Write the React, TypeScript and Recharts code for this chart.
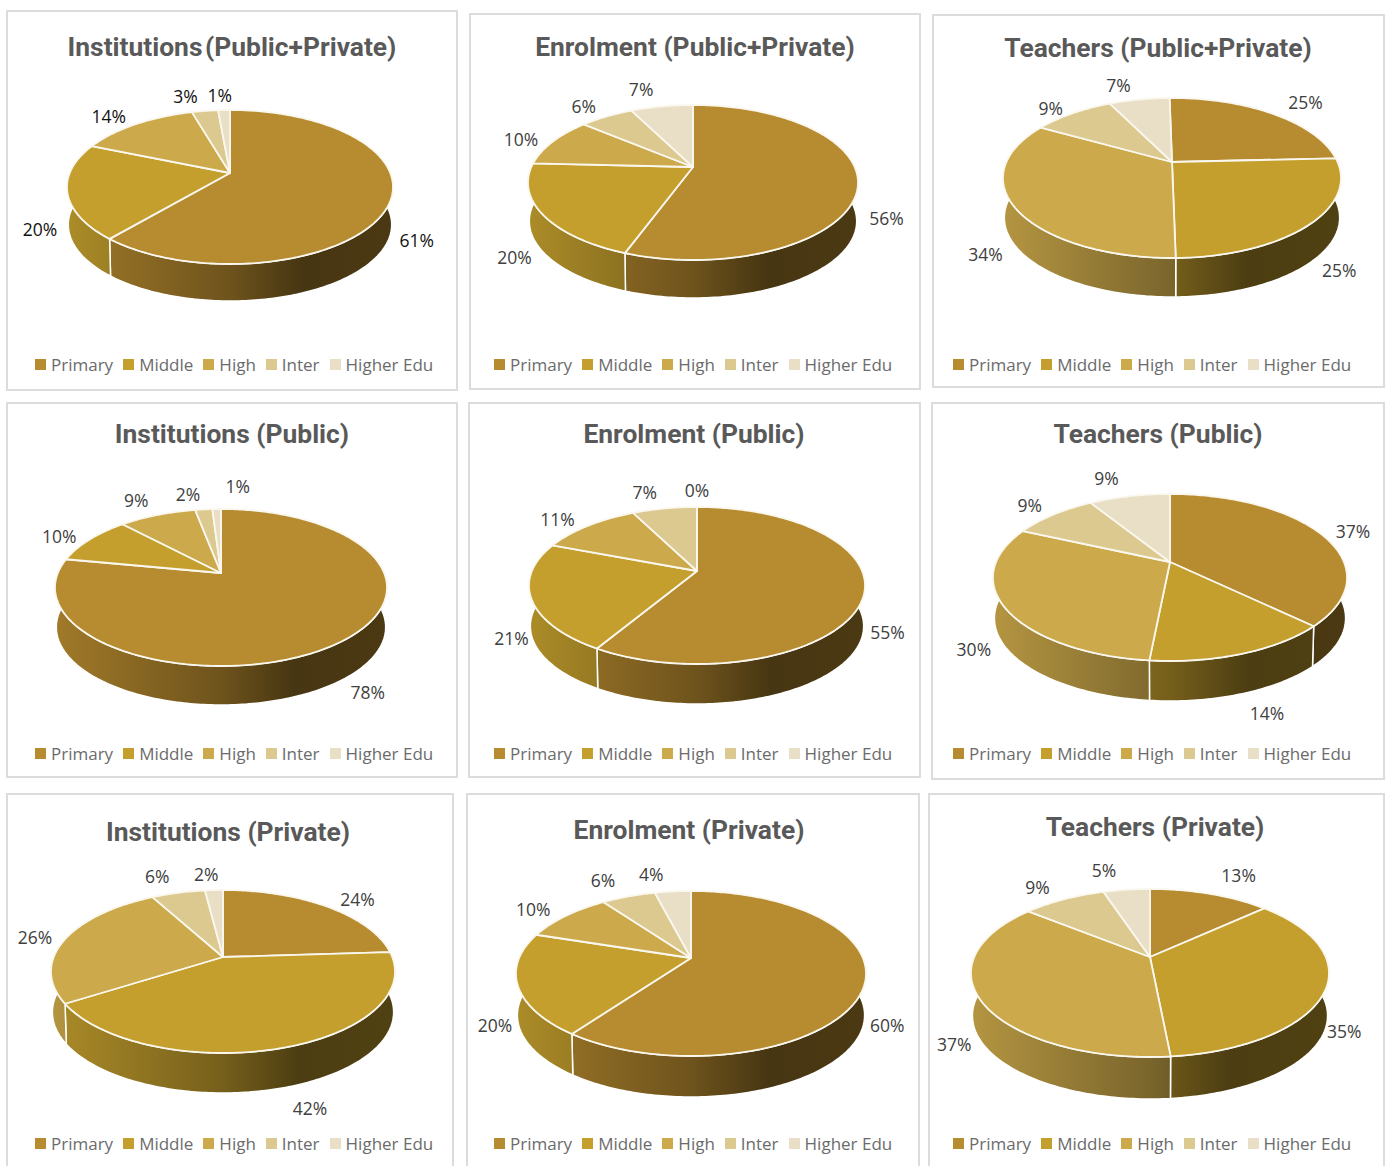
import { PieChart, Pie, Legend } from 'recharts';

const categories = ['Primary', 'Middle', 'High', 'Inter', 'Higher Edu'];
const palette = ['#b78b2f', '#c49f2d', '#cca94a', '#dcc98f', '#e9dfc6'];

// shares, the labels on the chart are these rounded
const institutionsAll = [61.2, 20.1, 14.2, 3.1, 1.4];
const enrolmentAll = [55.5, 20.2, 10.4, 6.4, 7.4];
const teachersAll = [24.5, 25.49, 33.5, 9.49, 7.02];
const institutionsPublic = [78, 10, 9, 2, 1];
const enrolmentPublic = [55, 21, 11, 7, 0];
const teachersPublic = [37.4, 14.4, 30.4, 9.4, 8.9];
const institutionsPrivate = [24, 42, 26, 6, 2];
const enrolmentPrivate = [60, 20, 10, 6, 4];
const teachersPrivate = [13, 35, 37, 9, 5];

interface Panel {
  title: string;
  values: number[];
  box: [number, number, number, number];
  titleX: number;
  titleY: number;
  titleSpacing?: number;
  legendX: number;
  legendY: number;
  centerX: number;
  centerY: number;
  radius: number;
  top: number;
  bottom: number;
  wallBottom: number;
  rotate?: number;
  labelColor?: string;
  nudges: [number, number][];
}

const panels: Panel[] = [
  { title: 'Institutions (Public+Private)', values: institutionsAll, box: [6, 10, 452, 381], titleX: 232, titleY: 47, titleSpacing: -4, legendX: 35, legendY: 367, centerX: 230, centerY: 173, radius: 163, top: 110, bottom: 264, wallBottom: 301, labelColor: '#111111',
    nudges: [[-1, -4], [1, -4], [-8, 4], [-14, 1], [-3, 1]] },
  { title: 'Enrolment (Public+Private)', values: enrolmentAll, box: [469, 13, 452, 377], titleX: 695, titleY: 47, legendX: 494, legendY: 367, centerX: 693, centerY: 167, radius: 165, top: 105, bottom: 260, wallBottom: 298,
    nudges: [[0, -4], [-3, -4], [-5, 3], [-5, 2], [-14, -2]] },
  { title: 'Teachers (Public+Private)', values: teachersAll, box: [932, 14, 453, 374], titleX: 1158, titleY: 48, legendX: 953, legendY: 367, centerX: 1172, centerY: 162, radius: 169, top: 98, bottom: 258, wallBottom: 297, rotate: 1,
    nudges: [[15, 1], [6, -3], [-3, 0], [-2, 6], [-14, 1]] },
  { title: 'Institutions (Public)', values: institutionsPublic, box: [6, 402, 452, 376], titleX: 232, titleY: 434, legendX: 35, legendY: 756, centerX: 221, centerY: 573, radius: 166, top: 509, bottom: 666, wallBottom: 705,
    nudges: [[7, -1], [-5, 4], [-8, -1], [-12, 0], [22, -7]] },
  { title: 'Enrolment (Public)', values: enrolmentPublic, box: [468, 402, 453, 376], titleX: 694, titleY: 434, legendX: 494, legendY: 756, centerX: 697, centerY: 571, radius: 168, top: 507, bottom: 664, wallBottom: 704,
    nudges: [[-5, -5], [8, -5], [-9, 4], [-13, -1], [0, -1]] },
  { title: 'Teachers (Public)', values: teachersPublic, box: [931, 402, 454, 378], titleX: 1158, titleY: 434, legendX: 953, legendY: 756, centerX: 1170, centerY: 562, radius: 177, top: 494, bottom: 661, wallBottom: 701,
    nudges: [[7, 5], [14, 4], [-5, -6], [-2, 1], [-15, -3]] },
  { title: 'Institutions (Private)', values: institutionsPrivate, box: [6, 793, 448, 400], titleX: 228, titleY: 832, legendX: 35, legendY: 1146, centerX: 223, centerY: 957, radius: 172, top: 890, bottom: 1053, wallBottom: 1093,
    nudges: [[12, 5], [15, 5], [-3, 3], [-12, -2], [-6, 0]] },
  { title: 'Enrolment (Private)', values: enrolmentPrivate, box: [466, 793, 454, 400], titleX: 689, titleY: 830, legendX: 494, legendY: 1146, centerX: 691, centerY: 958, radius: 175, top: 891, bottom: 1056, wallBottom: 1097,
    nudges: [[-5, -6], [5, -6], [-9, 3], [-13, -2], [-18, -2]] },
  { title: 'Teachers (Private)', values: teachersPrivate, box: [928, 793, 457, 400], titleX: 1155, titleY: 827, legendX: 953, legendY: 1146, centerX: 1150, centerY: 957, radius: 179, top: 889, bottom: 1057, wallBottom: 1099,
    nudges: [[17, -4], [-9, -6], [0, -5], [-10, 1], [-18, -4]] },
];

const WALL_SHRINK = 0.992;

const shadeColor = (hex: string, f: number) => {
  const n = parseInt(hex.slice(1), 16);
  const c = (s: number) => Math.round(((n >> s) & 255) * f);
  return `rgb(${c(16)},${c(8)},${c(0)})`;
};

// the charts are tilted with some perspective, so a slice angle goes through this before drawing
const makeProjection = (p: Panel) => {
  const up = p.centerY - p.top;
  const down = p.bottom - p.centerY;
  const k = (down - up) / (down + up);
  const b = up * (1 + k);
  const a = p.radius * Math.sqrt(1 - k * k);
  return (angle: number) => {
    const rad = (angle * Math.PI) / 180;
    const u = Math.sin(rad);
    const v = -Math.cos(rad);
    const d = 1 - k * v;
    return { x: (a * u) / d, y: (b * v) / d, u, v };
  };
};

const arcPoints = (startAngle: number, endAngle: number) => {
  const from = 90 - startAngle;
  const to = 90 - endAngle;
  const steps = Math.max(1, Math.ceil(to - from));
  const out: number[] = [];
  for (let i = 0; i <= steps; i++) out.push(from + ((to - from) * i) / steps);
  return out;
};

function PieCard({ panel, index }: { panel: Panel; index: number }) {
  const [bx, by, bw, bh] = panel.box;
  const project = makeProjection(panel);
  const cx = panel.centerX - bx;
  const cy = panel.centerY - by;
  const depth = panel.wallBottom - panel.centerY - WALL_SHRINK * (panel.bottom - panel.centerY);
  const startAngle = 90 + (panel.rotate ?? 0);
  const endAngle = startAngle - 360;
  const rows = categories.map((name, i) => ({ name, value: panel.values[i], fill: palette[i] }));

  const wallShape = (props: any) => {
    const angles = arcPoints(props.startAngle, props.endAngle);
    const upper = angles.map((t) => {
      const q = project(t);
      return `${cx + q.x},${cy + q.y}`;
    });
    const lower = angles
      .slice()
      .reverse()
      .map((t) => {
        const q = project(t);
        return `${cx + q.x * WALL_SHRINK},${cy + q.y * WALL_SHRINK + depth}`;
      });
    const id = `wall-${index}-${props.name.replace(' ', '')}`;
    return (
      <g>
        <defs>
          <linearGradient id={id} gradientUnits="userSpaceOnUse" x1={cx - panel.radius} x2={cx + panel.radius} y1={0} y2={0}>
            <stop offset="0%" stopColor={shadeColor(props.fill, 0.88)} />
            <stop offset="50%" stopColor={shadeColor(props.fill, 0.6)} />
            <stop offset="72%" stopColor={shadeColor(props.fill, 0.39)} />
            <stop offset="100%" stopColor={shadeColor(props.fill, 0.41)} />
          </linearGradient>
        </defs>
        <path d={`M${upper.join('L')}L${lower.join('L')}Z`} fill={`url(#${id})`} stroke="#fff" strokeWidth={1.5} />
      </g>
    );
  };

  const topShape = (props: any) => {
    const pts = arcPoints(props.startAngle, props.endAngle).map((t) => {
      const q = project(t);
      return `${cx + q.x},${cy + q.y}`;
    });
    return <path d={`M${cx},${cy}L${pts.join('L')}Z`} fill={props.fill} stroke="#faf7ee" strokeWidth={1.8} strokeLinejoin="round" />;
  };

  const renderLabel = (props: any) => {
    const q = project(90 - props.midAngle);
    const dx = 29 * q.u;
    const dy = q.v < 0 ? 16 * q.v : depth * Math.min(1, q.v / 0.15) + 16 * q.v;
    const [nx, ny] = panel.nudges[props.index];
    return (
      <text
        x={cx + q.x + dx + nx}
        y={cy + q.y + dy + ny}
        textAnchor="middle"
        dominantBaseline="central"
        fontFamily="'Open Sans', sans-serif"
        fontSize={17.5}
        fill={panel.labelColor ?? '#404040'}
      >
        {Math.round(props.value)}%
      </text>
    );
  };

  const renderLegend = (props: any) => (
    <div style={{ display: 'flex', gap: 10, alignItems: 'center', whiteSpace: 'nowrap' }}>
      {(props.payload ?? [])
        .filter((e: any) => e.type !== 'none')
        .map((e: any) => (
          <div key={e.value} style={{ display: 'flex', alignItems: 'center', gap: 5 }}>
            <span style={{ width: 11, height: 11, background: e.color, display: 'inline-block' }} />
            <span style={{ fontFamily: "'Open Sans', sans-serif", fontSize: 17, color: '#6b6b6b' }}>{e.value}</span>
          </div>
        ))}
    </div>
  );

  return (
    <div
      style={{
        position: 'absolute',
        left: bx,
        top: by,
        width: bw,
        height: bh,
        boxSizing: 'border-box',
        border: '2px solid #dcdcdc',
      }}
    >
      <div
        style={{
          position: 'absolute',
          left: panel.titleX - bx - 2 - 225,
          top: panel.titleY - by - 2 - 20,
          width: 450,
          height: 40,
          lineHeight: '40px',
          textAlign: 'center',
          fontFamily: 'Roboto, sans-serif',
          fontWeight: 700,
          fontSize: 26.4,
          wordSpacing: panel.titleSpacing ?? 0,
          color: '#595959',
          whiteSpace: 'nowrap',
        }}
      >
        {panel.title}
      </div>
      <div style={{ position: 'absolute', left: -2, top: -2 }}>
        <PieChart width={bw} height={bh} margin={{ top: 0, right: 0, bottom: 0, left: 0 }}>
          <Pie
            data={rows}
            dataKey="value"
            nameKey="name"
            cx={cx}
            cy={cy}
            outerRadius={panel.radius}
            startAngle={startAngle}
            endAngle={endAngle}
            legendType="none"
            shape={wallShape}
            isAnimationActive={false}
          />
          <Pie
            data={rows}
            dataKey="value"
            nameKey="name"
            cx={cx}
            cy={cy}
            outerRadius={panel.radius}
            startAngle={startAngle}
            endAngle={endAngle}
            legendType="square"
            shape={topShape}
            label={renderLabel}
            labelLine={false}
            isAnimationActive={false}
          />
          <Legend
            content={renderLegend}
            itemSorter={null}
            wrapperStyle={{ position: 'absolute', left: panel.legendX - bx, top: panel.legendY - by - 14, bottom: 'auto', width: 'auto', height: 28 }}
          />
        </PieChart>
      </div>
    </div>
  );
}

export default function App() {
  return (
    <div style={{ position: 'absolute', left: 0, top: 0, width: 1389, height: 1166, overflow: 'hidden', background: '#fff' }}>
      {panels.map((panel, i) => (
        <PieCard key={panel.title} panel={panel} index={i} />
      ))}
    </div>
  );
}
